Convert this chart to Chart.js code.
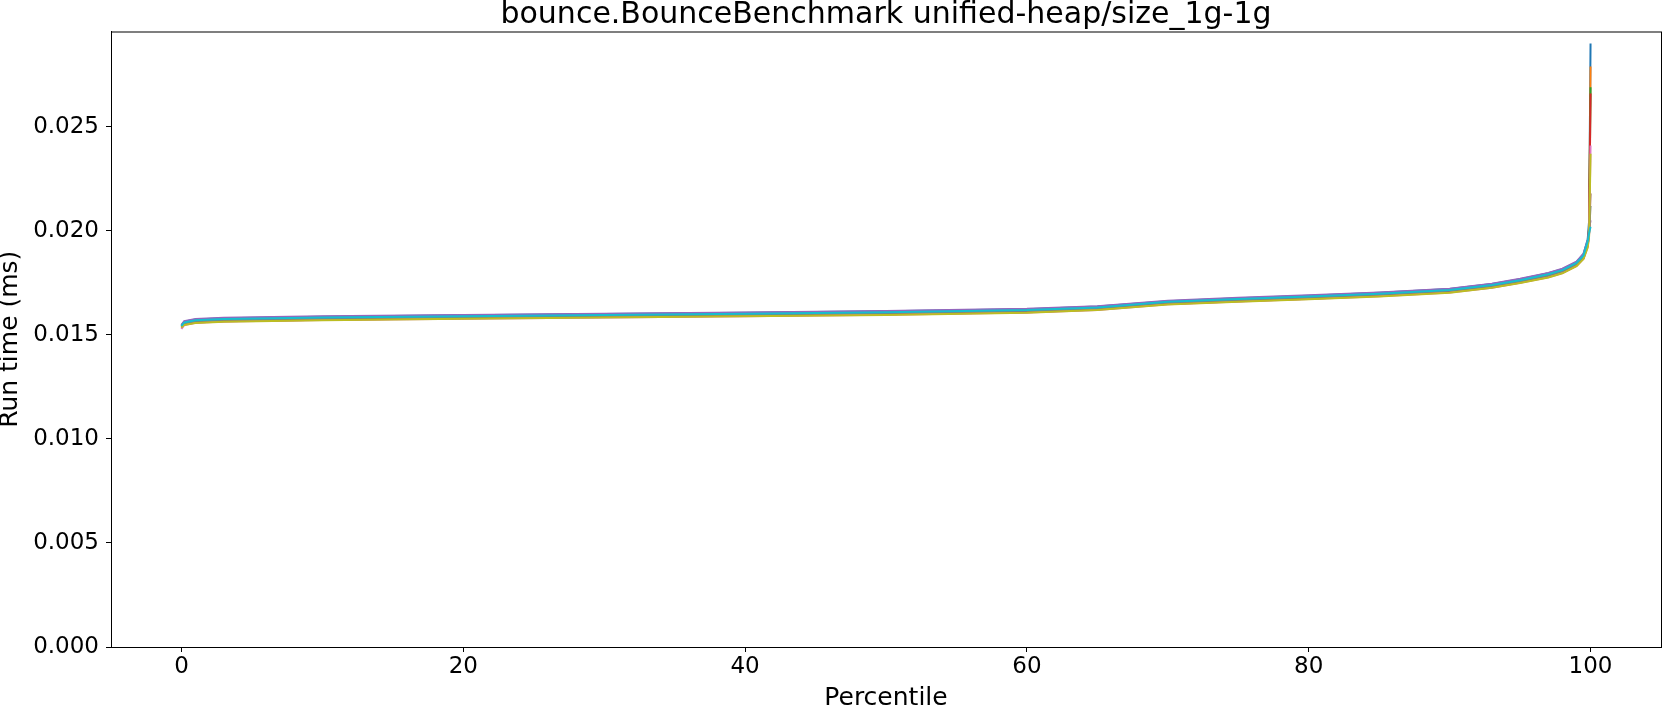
<!DOCTYPE html>
<html lang="en">
  <head>
    <meta charset="UTF-8" />
    <title>bounce.BounceBenchmark unified-heap/size_1g-1g</title>
    <script src="https://cdn.jsdelivr.net/npm/chart.js@4"></script>
    <style>
      html, body { margin: 0; padding: 0; background: #fff; }
      #chart { display: block; }
    </style>
  </head>
  <body>
    <canvas id="chart" width="1664" height="710"></canvas>

    <script>
      // percentiles used as x values for every run
      const percentiles = [0, 0.2, 1, 3, 10, 20, 30, 40, 50, 60, 65, 70, 75, 80, 85, 90, 93, 95, 97, 98, 99, 99.5, 99.8, 99.9, 100];

      // run times (ms), one list per run
      const run0 = [0.01546, 0.01564, 0.01574, 0.01580, 0.01587, 0.01594, 0.01600, 0.01606, 0.01613, 0.01623, 0.01636, 0.01662, 0.01676, 0.01688, 0.01702, 0.01720, 0.01744, 0.01768, 0.01796, 0.01816, 0.01850, 0.01888, 0.01960, 0.02050, 0.02900];
      const run1 = [0.01538, 0.01552, 0.01562, 0.01568, 0.01575, 0.01582, 0.01588, 0.01594, 0.01601, 0.01611, 0.01624, 0.01651, 0.01664, 0.01676, 0.01690, 0.01708, 0.01731, 0.01754, 0.01781, 0.01801, 0.01836, 0.01872, 0.01935, 0.02020, 0.02790];
      const run2 = [0.01541, 0.01558, 0.01568, 0.01574, 0.01581, 0.01588, 0.01594, 0.01600, 0.01607, 0.01617, 0.01630, 0.01657, 0.01670, 0.01682, 0.01696, 0.01714, 0.01737, 0.01760, 0.01787, 0.01807, 0.01842, 0.01878, 0.01945, 0.02010, 0.02690];
      const run3 = [0.01534, 0.01550, 0.01560, 0.01566, 0.01573, 0.01580, 0.01586, 0.01592, 0.01599, 0.01609, 0.01622, 0.01649, 0.01662, 0.01674, 0.01688, 0.01706, 0.01729, 0.01752, 0.01779, 0.01799, 0.01833, 0.01868, 0.01930, 0.01990, 0.02660];
      const run4 = [0.01548, 0.01566, 0.01576, 0.01582, 0.01589, 0.01596, 0.01602, 0.01608, 0.01615, 0.01625, 0.01638, 0.01664, 0.01678, 0.01690, 0.01704, 0.01722, 0.01746, 0.01770, 0.01798, 0.01818, 0.01852, 0.01890, 0.01955, 0.02010, 0.02050];
      const run5 = [0.01537, 0.01551, 0.01561, 0.01567, 0.01574, 0.01581, 0.01587, 0.01593, 0.01600, 0.01610, 0.01623, 0.01650, 0.01663, 0.01675, 0.01689, 0.01707, 0.01730, 0.01753, 0.01780, 0.01800, 0.01835, 0.01870, 0.01932, 0.01995, 0.02180];
      const run6 = [0.01528, 0.01548, 0.01558, 0.01564, 0.01571, 0.01578, 0.01584, 0.01590, 0.01597, 0.01607, 0.01620, 0.01647, 0.01660, 0.01672, 0.01686, 0.01704, 0.01727, 0.01750, 0.01777, 0.01797, 0.01831, 0.01866, 0.01925, 0.01985, 0.02410];
      const run7 = [0.01540, 0.01556, 0.01566, 0.01572, 0.01579, 0.01586, 0.01592, 0.01598, 0.01605, 0.01615, 0.01628, 0.01655, 0.01668, 0.01680, 0.01694, 0.01712, 0.01735, 0.01758, 0.01785, 0.01805, 0.01840, 0.01875, 0.01938, 0.01998, 0.02120];
      const run8 = [0.01535, 0.01548, 0.01557, 0.01563, 0.01570, 0.01577, 0.01583, 0.01589, 0.01596, 0.01606, 0.01619, 0.01646, 0.01659, 0.01671, 0.01685, 0.01703, 0.01726, 0.01749, 0.01776, 0.01796, 0.01830, 0.01865, 0.01920, 0.01975, 0.02370];
      const run9 = [0.01543, 0.01560, 0.01570, 0.01576, 0.01583, 0.01590, 0.01596, 0.01602, 0.01609, 0.01619, 0.01632, 0.01659, 0.01672, 0.01684, 0.01698, 0.01716, 0.01740, 0.01763, 0.01791, 0.01811, 0.01846, 0.01882, 0.01950, 0.01990, 0.02020];

      const runs = [run0, run1, run2, run3, run4, run5, run6, run7, run8, run9];

      // tick labels
      const xTicks = [0, 20, 40, 60, 80, 100];
      const yTicks = [0, 0.005, 0.01, 0.015, 0.02, 0.025];

      // matplotlib tab10
      const colors = ["#1f77b4", "#ff7f0e", "#2ca02c", "#d62728", "#9467bd", "#8c564b", "#e377c2", "#7f7f7f", "#bcbd22", "#17becf"];

      const FONT = "'DejaVu Sans', sans-serif";

      // top and right spines, like matplotlib
      const frame = {
        id: "frame",
        afterDatasetsDraw(chart) {
          const a = chart.chartArea;
          const ctx = chart.ctx;
          ctx.save();
          ctx.strokeStyle = "#000";
          ctx.lineWidth = 1;
          ctx.strokeRect(a.left + 0.5, a.top + 0.5, a.right - a.left, a.bottom - a.top);
          ctx.restore();
        },
      };

      const datasets = runs.map((run, i) => ({
        label: "run " + i,
        data: run.map((v, j) => ({ x: percentiles[j], y: v })),
        borderColor: colors[i],
        backgroundColor: colors[i],
        borderWidth: 2,
        pointRadius: 0,
        tension: 0,
        fill: false,
        order: runs.length - i, // later runs drawn on top
      }));

      new Chart(document.getElementById("chart").getContext("2d"), {
        type: "line",
        data: { datasets: datasets },
        plugins: [frame],
        options: {
          responsive: false,
          animation: false,
          devicePixelRatio: 1,
          layout: { padding: { left: 0, right: 3, top: 0, bottom: 0 } },
          plugins: {
            legend: { display: false },
            tooltip: { enabled: false },
            title: {
              display: true,
              text: "bounce.BounceBenchmark unified-heap/size_1g-1g",
              color: "#000",
              fullSize: false,
              font: { family: FONT, size: 30, weight: "normal", lineHeight: 1.0 },
              padding: { top: 0, bottom: 1.5 },
            },
          },
          scales: {
            x: {
              type: "linear",
              min: -5,
              max: 105,
              afterFit: (scale) => { scale.height = 63; },
              afterBuildTicks: (axis) => { axis.ticks = xTicks.map((v) => ({ value: v })); },
              grid: { drawOnChartArea: false, drawTicks: true, tickLength: 5, tickColor: "#000" },
              border: { display: true, color: "#000", width: 1 },
              ticks: { color: "#000", padding: 1, maxRotation: 0, font: { family: FONT, size: 23 } },
              title: {
                display: true,
                text: "Percentile",
                color: "#000",
                font: { family: FONT, size: 25 },
                padding: { top: 0, bottom: -3 },
              },
            },
            y: {
              type: "linear",
              min: 0,
              max: 0.02958,
              afterFit: (scale) => { scale.width = 111; },
              afterBuildTicks: (axis) => { axis.ticks = yTicks.map((v) => ({ value: v })); },
              grid: { drawOnChartArea: false, drawTicks: true, tickLength: 5, tickColor: "#000" },
              border: { display: true, color: "#000", width: 1 },
              ticks: {
                color: "#000",
                padding: 7,
                font: { family: FONT, size: 23 },
                callback: (v) => v.toFixed(3),
              },
              title: {
                display: true,
                text: "Run time (ms)",
                color: "#000",
                font: { family: FONT, size: 25 },
                padding: { top: -4.5, bottom: 0 },
              },
            },
          },
        },
      });
    </script>
  </body>
</html>
